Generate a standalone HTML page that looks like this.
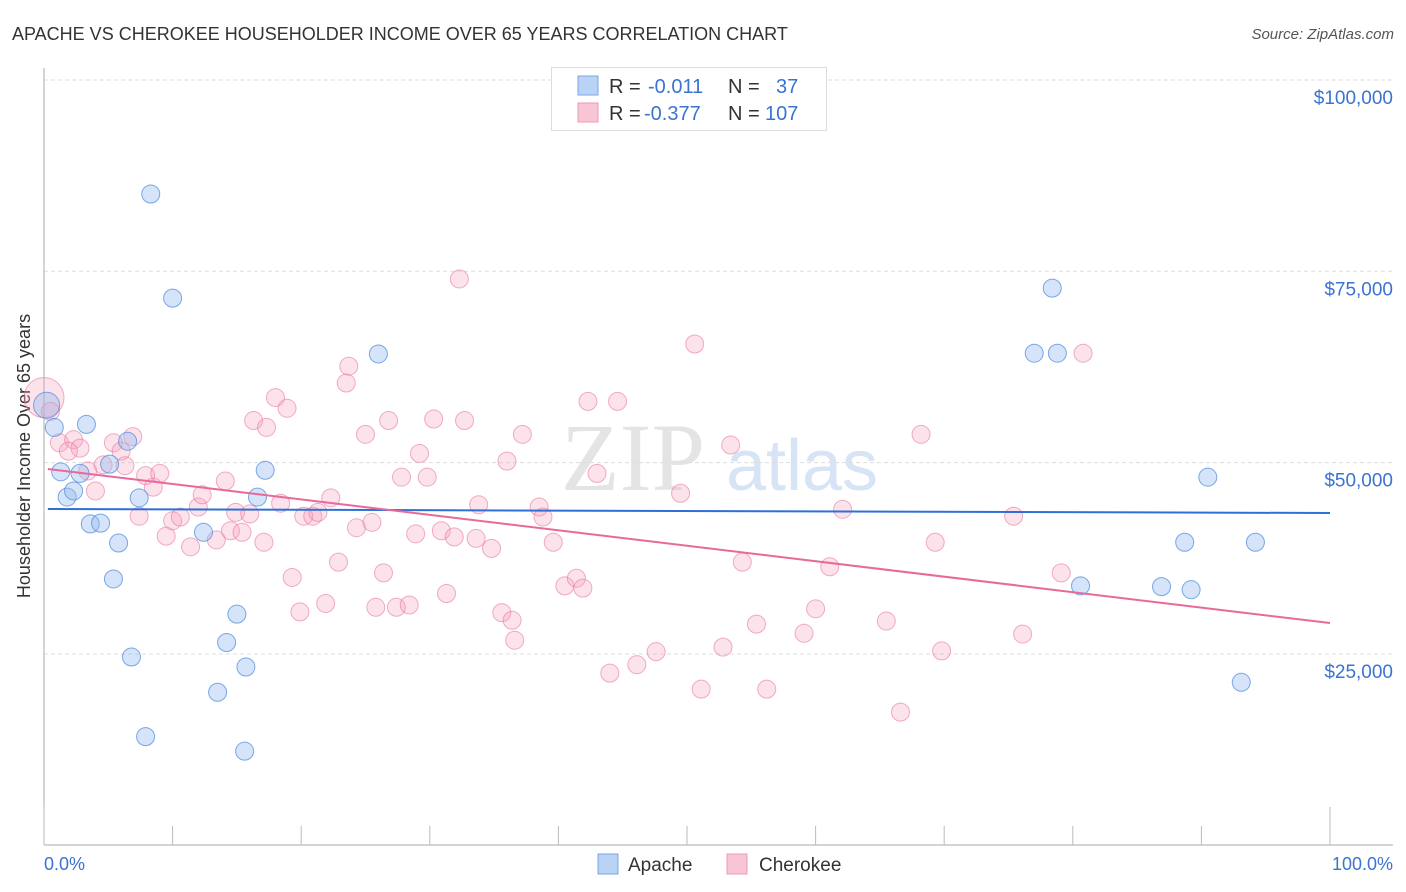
<!DOCTYPE html>
<html><head><meta charset="utf-8"><style>
body{margin:0;background:#fff;font-family:"Liberation Sans",sans-serif}
svg{display:block}
</style></head><body>
<svg id="chart" width="1406" height="892" xmlns="http://www.w3.org/2000/svg">
<text x="12" y="40" font-size="18" fill="#333">APACHE VS CHEROKEE HOUSEHOLDER INCOME OVER 65 YEARS CORRELATION CHART</text>
<text x="1394" y="39" font-size="15" fill="#555" font-style="italic" text-anchor="end">Source: ZipAtlas.com</text>
<text x="633" y="490" font-size="96" fill="#e4e4e4" font-family="Liberation Serif,serif" text-anchor="middle">ZIP</text>
<text x="802" y="490" font-size="72" fill="#d6e4f6" text-anchor="middle">atlas</text>
<g id="grid"></g>
<line x1="44" y1="68" x2="44" y2="845" stroke="#aaa"/>
<line x1="44" y1="845" x2="1393" y2="845" stroke="#aaa"/>
<g id="ticks"></g>
<text x="30" y="456" font-size="18" fill="#333" text-anchor="middle" transform="rotate(-90 30 456)">Householder Income Over 65 years</text>
<text x="44" y="870" font-size="18" fill="#3b73d1">0.0%</text>
<text x="1393" y="870" font-size="18" fill="#3b73d1" text-anchor="end">100.0%</text>
<g id="points"></g>
<g id="trends"></g>
<g>
<rect x="551.5" y="67.5" width="275" height="63" fill="#fff" stroke="#ddd"/>
<rect x="578" y="76" width="20" height="19" fill="#b9d3f5" stroke="#7aa6e6"/>
<rect x="578" y="103" width="20" height="19" fill="#f8c5d4" stroke="#ec9ab3"/>
<text x="609" y="93" font-size="20" fill="#333">R = </text><text x="648" y="93" font-size="20" fill="#3b73d1">-0.011</text>
<text x="728" y="93" font-size="20" fill="#333">N = </text><text x="776" y="93" font-size="20" fill="#3b73d1">37</text>
<text x="609" y="120" font-size="20" fill="#333">R = </text><text x="644" y="120" font-size="20" fill="#3b73d1">-0.377</text>
<text x="728" y="120" font-size="20" fill="#333">N = </text><text x="765" y="120" font-size="20" fill="#3b73d1">107</text>
</g>
<g><rect x="598" y="854" width="20" height="20" fill="#b9d3f5" stroke="#7aa6e6"/><text x="628" y="871" font-size="19" fill="#333">Apache</text></g>
<g><rect x="727" y="854" width="20" height="20" fill="#f8c5d4" stroke="#ec9ab3"/><text x="759" y="871" font-size="19" fill="#333">Cherokee</text></g>
</svg>
<script>
const yTicks=[25000,50000,75000,100000];
const yTickLabels=["$25,000","$50,000","$75,000","$100,000"];
const apacheX=[0.2,0.8,3.3,1.3,2.8,1.8,2.3,6.5,5.1,3.6,4.4,5.8,7.4,8.3,10.0,5.4,6.8,7.9,12.4,15.0,14.2,15.7,13.5,15.6,16.6,17.2,26.0,78.4,77.0,78.8,80.6,86.9,89.2,88.7,90.5,94.2,93.1];
const apacheY=[57500,54600,55000,48800,48600,45500,46300,52800,49800,42000,42100,39500,45400,85100,71500,34800,24600,14200,40900,30200,26500,23300,20000,12300,45500,49000,64200,72800,64300,64300,33900,33800,33400,39600,48100,39600,21300];
const cherokeeX=[0,0.5,1.2,2.3,2.8,1.9,3.4,4.0,4.6,5.4,6.0,6.3,6.9,7.4,7.9,8.5,9.0,9.5,10.0,10.6,11.4,12.0,12.3,13.4,14.1,14.5,14.9,15.4,16.0,16.3,17.1,17.3,18.0,18.4,18.9,19.3,19.9,20.2,20.9,21.3,21.9,22.3,22.9,23.5,23.7,24.3,25.0,25.5,25.8,26.4,26.8,27.4,27.8,28.4,28.9,29.2,29.8,30.3,30.9,31.3,31.9,32.3,32.7,33.6,33.8,34.8,35.6,36.0,36.4,36.6,37.2,38.5,38.8,39.6,40.5,41.4,41.9,42.3,43.0,44.0,44.6,46.1,47.6,49.5,50.6,51.1,52.8,53.4,54.3,55.4,56.2,59.1,60.0,61.1,62.1,65.5,66.6,68.2,69.3,69.8,75.4,76.1,79.1,80.8];
const cherokeeY=[58500,56700,52600,53000,51900,51500,48900,46300,49700,52600,51500,49600,53400,43000,48300,46800,48600,40400,42400,42900,39000,44200,45800,39900,47600,41100,43500,40900,43300,55500,39600,54600,58500,44700,57100,35000,30500,43000,43000,43500,31600,45400,37000,60400,62600,41500,53700,42200,31100,35600,55500,31100,48100,31400,40700,51200,48100,55700,41100,32900,40300,74000,55500,40100,44500,38800,30400,50200,29400,26800,53700,44200,42900,39600,33900,34900,33600,58000,48600,22500,58000,23600,25300,46000,65500,20400,25900,52300,37000,28900,20400,27700,30900,36400,43900,29300,17400,53700,39600,25400,43000,27600,35600,64300];
const apacheTrend=[43940,43420];
const cherokeeTrend=[49170,29040];
const xTicks=[0,10,20,30,40,50,60,70,80,90,100];

const NS="http://www.w3.org/2000/svg";
const xs=v=>44+v/100*1286;
const ys=v=>845.3-v/25000*191.33;
function mk(tag,attrs,parent){const e=document.createElementNS(NS,tag);for(const k in attrs)e.setAttribute(k,attrs[k]);parent.appendChild(e);return e;}
const grid=document.getElementById('grid'),ticks=document.getElementById('ticks'),pts=document.getElementById('points'),tr=document.getElementById('trends');
yTicks.forEach((v,i)=>{
 const l=mk('line',{x1:44,x2:1393,y1:ys(v),y2:ys(v),stroke:'#ddd','stroke-dasharray':'4,3'},grid);
 
 
 const t=mk('text',{x:1393,y:ys(v)+24,'font-size':19,fill:'#3b73d1','text-anchor':'end'},grid);
 t.textContent=yTickLabels[i];
 
 
});
xTicks.forEach((v,i)=>{
 const l=mk('line',{x1:xs(v),x2:xs(v),y1:(i==0||i==10)?807:826,y2:845,stroke:'#bbb'},ticks);
 
 
});
cherokeeX.forEach((x,i)=>{
 const c=mk('circle',{cx:xs(x),cy:ys(cherokeeY[i]),r:i==0?20:9,fill:'rgba(244,160,188,0.3)',stroke:'rgba(232,120,160,0.6)','stroke-width':1},pts);
 
 
});
apacheX.forEach((x,i)=>{
 const c=mk('circle',{cx:xs(x),cy:ys(apacheY[i]),r:i==0?13:9,fill:'rgba(150,188,238,0.4)',stroke:'rgba(80,140,225,0.75)','stroke-width':1},pts);
 
 
});
const a=mk('line',{x1:xs(0.3),x2:xs(100),y1:ys(apacheTrend[0]),y2:ys(apacheTrend[1]),stroke:'#2f6fd6','stroke-width':2},tr);


const c2=mk('line',{x1:xs(0.3),x2:xs(100),y1:ys(cherokeeTrend[0]),y2:ys(cherokeeTrend[1]),stroke:'#e8699a','stroke-width':2},tr);


</script>
</body></html>
